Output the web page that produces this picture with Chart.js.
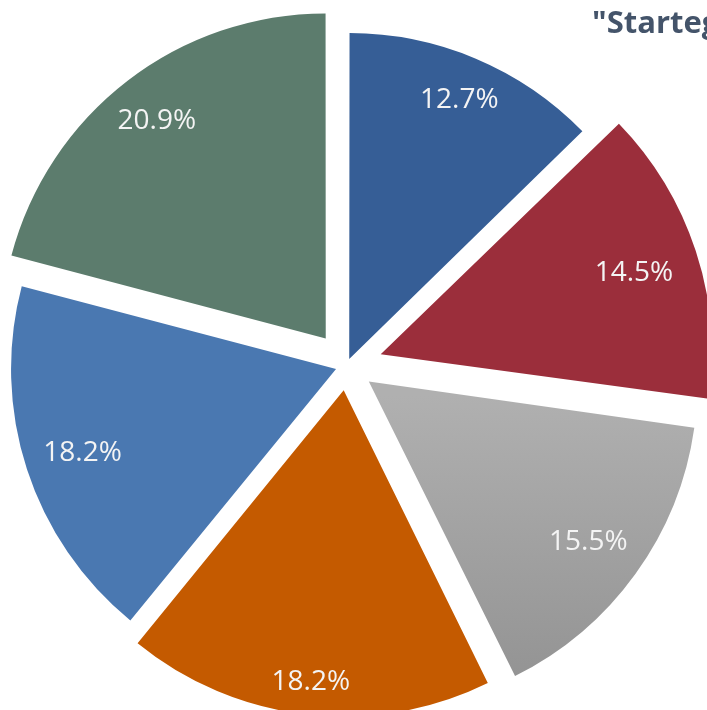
<!DOCTYPE html>
<html lang="en">
<head>
<meta charset="UTF-8">
<title>Startegy pie</title>
<script src="https://cdn.jsdelivr.net/npm/chart.js"></script>
<style>
  html, body { margin: 0; padding: 0; background: #fff; overflow: hidden; }
  canvas { display: block; }
</style>
</head>
<body>
<canvas id="chart" width="707" height="710"></canvas>
<script>
// values, clockwise from 12 o'clock
const categories = ['Item 1', 'Item 2', 'Item 3', 'Item 4', 'Item 5', 'Item 6'];
const shares = [12.7, 14.5, 15.5, 18.2, 18.2, 20.9];
const titleText = '"Startegy"';

// looks
const sliceColors = ['#365E96', '#9B2E3B', null, '#C45A00', '#4A78B1', '#5C7C6D'];
const sliceOffsets = [28, 144, 110, 100, 44, 136]; // chart.js shifts a slice by offset/4

function sliceColor(c) {
    if (c.dataIndex === 2) {
        // the grey slice fades top to bottom
        const g = c.chart.ctx.createLinearGradient(0, 380, 0, 680);
        g.addColorStop(0, '#B0B0B0');
        g.addColorStop(1, '#929292');
        return g;
    }
    return sliceColors[c.dataIndex];
}

const labelPlugin = {
    id: 'sliceLabels',
    afterDatasetsDraw(chart) {
        const ctx = chart.ctx;
        const meta = chart.getDatasetMeta(0);
        ctx.save();
        ctx.font = '28px "Open Sans"';
        ctx.fillStyle = '#F4F4F4';
        ctx.textAlign = 'center';
        ctx.textBaseline = 'middle';
        meta.data.forEach((arc, i) => {
            const p = arc.getProps(['x', 'y', 'startAngle', 'endAngle', 'outerRadius'], true);
            const mid = (p.startAngle + p.endAngle) / 2;
            // inside-end placement: wide text sits further in on the sides
            const dist = sliceOffsets[i] / 4 + p.outerRadius - 29 - 30 * Math.abs(Math.cos(mid));
            ctx.fillText(shares[i].toFixed(1) + '%', p.x + Math.cos(mid) * dist, p.y + Math.sin(mid) * dist + 2);
        });
        // title runs off the right edge, as in the original
        ctx.font = 'bold 31px "Open Sans"';
        ctx.fillStyle = '#44546A';
        ctx.textAlign = 'left';
        ctx.textBaseline = 'alphabetic';
        ctx.fillText(titleText, 592, 33);
        ctx.restore();
    }
};

new Chart(document.getElementById('chart'), {
    type: 'pie',
    data: {
        labels: categories,
        datasets: [{
            data: shares,
            backgroundColor: sliceColor,
            borderWidth: 0,
            offset: sliceOffsets,
            hoverOffset: 0,
            radius: 324,
            clip: false
        }]
    },
    options: {
        responsive: false,
        animation: false,
        layout: { padding: { left: 0, right: 14, top: 21, bottom: 0 } },
        plugins: {
            legend: { display: false },
            tooltip: { enabled: false }
        }
    },
    plugins: [labelPlugin]
});
</script>
</body>
</html>
